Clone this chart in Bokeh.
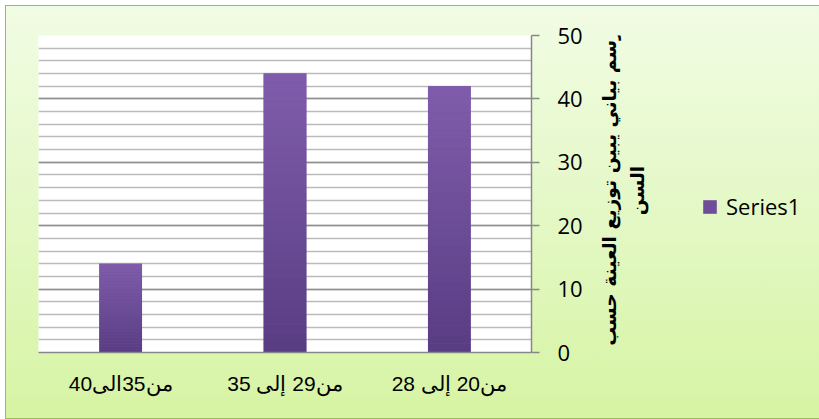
import math
from bokeh.plotting import figure
from bokeh.layouts import row
from bokeh.models import (FactorRange, Range1d, LinearAxis, SingleIntervalTicker,
                          Label, Legend, LegendItem, ColumnDataSource)
from bokeh.embed import file_html
from bokeh.resources import INLINE

# ---- data ----
categories = ["من20 إلى 28", "من29 إلى 35", "من35الى40"]
series1 = [42, 44, 14]
series_name = "Series1"
title_line1 = "رسم بياني يبين توزيع العينة حسب"
title_line2 = "السن"

BAR_COLOR = "#6E4E9A"

# ---- main figure ----
p = figure(width=590, height=412, output_backend="svg", toolbar_location=None,
           x_range=FactorRange(*list(reversed(categories)), range_padding=0),
           y_range=Range1d(0, 50), y_axis_location=None,
           min_border_left=32, min_border_top=29, min_border_bottom=66,
           min_border_right=65)
p.border_fill_color = None
p.background_fill_color = "white"
p.outline_line_color = None

# x axis (bottom)
xa = p.xaxis[0]
xa.axis_line_color = "#878787"
xa.axis_line_width = 1.5
xa.major_tick_line_color = None
xa.minor_tick_line_color = None
xa.major_label_text_font = "Liberation Sans"
xa.major_label_text_font_size = "21px"
xa.major_label_text_color = "black"
xa.major_label_standoff = 13
p.xgrid.grid_line_color = None

# y axis (right)
ticker = SingleIntervalTicker(interval=10, num_minor_ticks=5)
ya = LinearAxis(ticker=ticker, major_tick_out=8, major_tick_in=0,
                major_label_standoff=18)
ya.axis_line_color = "#878787"
ya.axis_line_width = 1.5
ya.major_tick_line_color = "#878787"
ya.major_tick_line_width = 1.5
ya.minor_tick_line_color = None
ya.major_label_text_font = "Open Sans"
ya.major_label_text_font_size = "22px"
ya.major_label_text_color = "black"
ya.major_label_text_align = "left"
p.add_layout(ya, "right")

p.ygrid.ticker = ticker
p.ygrid.grid_line_color = "#8E8E8E"
p.ygrid.grid_line_width = 1.4
p.ygrid.minor_grid_line_color = "#BBBBBB"
p.ygrid.minor_grid_line_width = 1.4

# bars: base plus vertical gradient slices
src = ColumnDataSource(dict(cat=categories, val=series1))
p.vbar(x="cat", top="val", bottom=0, width=0.26, source=src,
       fill_color=BAR_COLOR, line_color=None)

N = 30
top_c = (127, 92, 171)
bot_c = (89, 61, 131)
xs, bots, tops, cols = [], [], [], []
for c, v in zip(categories, series1):
    for k in range(N):
        t = k / (N - 1)
        col = tuple(int(round(bot_c[j] + (top_c[j] - bot_c[j]) * t)) for j in range(3))
        xs.append(c)
        bots.append(v * k / N)
        tops.append(v * (k + 1) / N + (0.02 if k < N - 1 else 0))
        cols.append("#%02x%02x%02x" % col)
p.vbar(x=xs, top=tops, bottom=bots, width=0.26, fill_color=cols, line_color=None)

# ---- side panel figure: axis title + legend ----
# (its frame is aligned with the main frame: 317 px tall)
p2 = figure(width=223, height=412, output_backend="svg", toolbar_location=None,
            x_range=Range1d(0, 223), y_range=Range1d(0, 317),
            x_axis_location=None, y_axis_location=None, min_border=0)
p2.border_fill_color = None
p2.background_fill_color = None
p2.outline_line_color = None
p2.grid.visible = False

leg_r = p2.vbar(x=[-100], top=[-100], bottom=[-200], width=1,
                fill_color=BAR_COLOR, line_color=None)
legend = Legend(items=[LegendItem(label=series_name, renderers=[leg_r])],
                location=(105, 131), orientation="vertical",
                border_line_color=None, background_fill_alpha=0,
                padding=0, margin=0, spacing=0,
                glyph_width=17, glyph_height=17, label_standoff=8,
                label_text_font="Open Sans", label_text_font_size="22px",
                label_text_color="black")
p2.add_layout(legend, "center")

for txt, lx, ly in [(title_line1, 13, 165), (title_line2, 41, 162)]:
    p2.add_layout(Label(x=lx, y=ly, text=txt, angle=math.pi / 2,
                        text_align="center", text_baseline="middle",
                        text_font="DejaVu Sans", text_font_style="bold",
                        text_font_size="18.8px", text_color="black"))

layout = row(p, p2, margin=(5, 0, 0, 5))
layout.styles = {"background": "linear-gradient(to bottom, #F1FCE4 0%, #E4F8C6 50%, #D6F4A3 100%)",
                 "border": "1px solid #9BBB59"}

open("out.html", "w").write(file_html(layout, INLINE))
